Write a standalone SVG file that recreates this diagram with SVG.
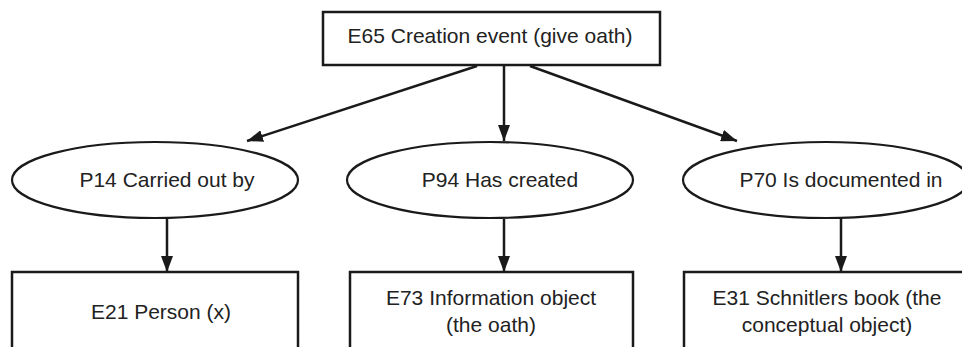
<svg xmlns="http://www.w3.org/2000/svg" width="962" height="347" viewBox="0 0 962 347">
<style>
  .box { fill: #fff; stroke: #1a1a1a; stroke-width: 2.5; }
  .ell { fill: #fff; stroke: #1a1a1a; stroke-width: 2.2; }
  .lbl { font-family: "Liberation Sans", Arial, sans-serif; font-size: 21px; fill: #222; text-anchor: middle; }
  .conn { stroke: #1a1a1a; stroke-width: 2.5; fill: none; marker-end: url(#arr); }
</style>
<defs>
  <marker id="arr" viewBox="0 0 16 12" refX="16" refY="6" markerWidth="16" markerHeight="12" markerUnits="userSpaceOnUse" orient="auto">
    <path d="M0,0 L16,6 L0,12 Z" fill="#1a1a1a"/>
  </marker>
</defs>
<rect width="962" height="347" fill="#fff"/>
<g id="connectors">
  <line class="conn" x1="477" y1="66" x2="247" y2="141"/>
  <line class="conn" x1="504" y1="66" x2="504" y2="141"/>
  <line class="conn" x1="530" y1="66" x2="737" y2="141"/>
  <line class="conn" x1="167" y1="219" x2="167" y2="272"/>
  <line class="conn" x1="504" y1="219" x2="504" y2="272"/>
  <line class="conn" x1="841" y1="219" x2="841" y2="272"/>
</g>
<g id="e65">
  <rect class="box" x="323" y="12" width="337" height="53"/>
  <text class="lbl" x="490" y="43">E65 Creation event (give oath)</text>
</g>
<g id="p14">
  <ellipse class="ell" cx="155" cy="180" rx="143" ry="38"/>
  <text class="lbl" x="167" y="187">P14 Carried out by</text>
</g>
<g id="p94">
  <ellipse class="ell" cx="490" cy="180" rx="143" ry="38"/>
  <text class="lbl" x="500" y="187">P94 Has created</text>
</g>
<g id="p70">
  <ellipse class="ell" cx="826" cy="180" rx="143" ry="38"/>
  <text class="lbl" x="841" y="187">P70 Is documented in</text>
</g>
<g id="e21">
  <rect class="box" x="12" y="272" width="286" height="90"/>
  <text class="lbl" x="161" y="319">E21 Person (x)</text>
</g>
<g id="e73">
  <rect class="box" x="350" y="272" width="283" height="90"/>
  <text class="lbl" x="491" y="305">E73 Information object</text>
  <text class="lbl" x="491" y="332">(the oath)</text>
</g>
<g id="e31">
  <rect class="box" x="684" y="272" width="286" height="90"/>
  <text class="lbl" x="827" y="305">E31 Schnitlers book (the</text>
  <text class="lbl" x="827" y="332">conceptual object)</text>
</g>
</svg>
